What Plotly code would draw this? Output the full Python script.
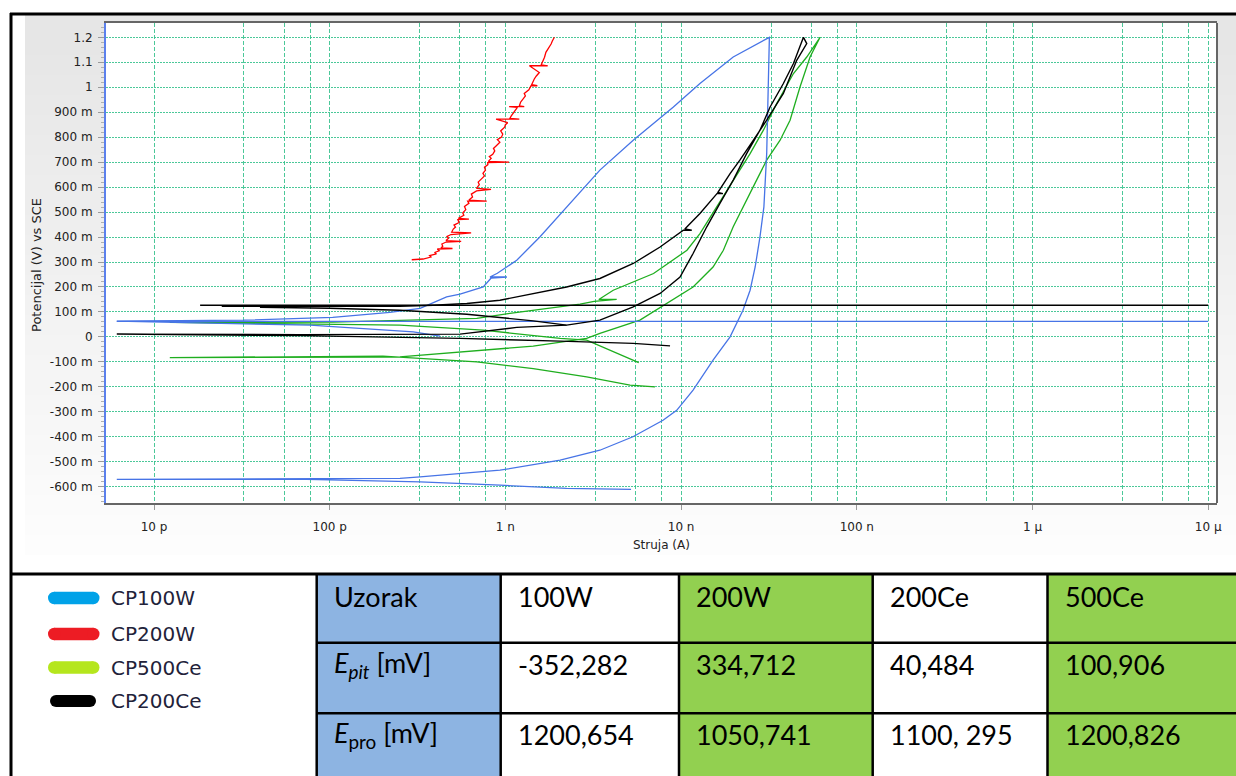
import plotly.graph_objects as go

# ---------------- data ----------------
cp100w_current = [5.19e-9, 2.23e-9, 9.31e-10, 3.27e-10, 7.4e-11, 6.14e-12, 8.81e-11, 2.51e-10, 3.27e-10,
                  9.31e-10, 2.05e-9, 3.45e-9, 5.32e-9, 7.89e-9, 9.44e-9, 1.17e-8, 1.52e-8, 1.9e-8, 2.25e-8,
                  2.47e-8, 2.64e-8, 2.81e-8, 2.96e-8, 3.07e-8, 3.13e-8, 3.18e-8, 1.98e-8, 1.28e-8, 9.04e-9,
                  5.34e-9, 3.45e-9, 2.23e-9, 1.57e-9, 1.16e-9, 9.0e-10, 8.17e-10, 1.02e-9, 8.3e-10, 7.48e-10,
                  5.52e-10, 4.63e-10, 3.27e-10, 2.2e-10, 1.04e-10, 3.22e-11, 6.14e-12, 7.73e-11, 2.99e-10,
                  4.25e-10, None, 6.14e-12, 1.0e-5]
cp100w_potential = [-0.611, -0.607, -0.594, -0.581, -0.571, -0.571, -0.568, -0.567, -0.561,
                    -0.534, -0.494, -0.454, -0.400, -0.334, -0.294, -0.213, -0.093, 0.0, 0.107,
                    0.187, 0.280, 0.400, 0.521, 0.734, 1.001, 1.2, 1.121, 1.015, 0.921,
                    0.788, 0.668, 0.521, 0.400, 0.307, 0.255, 0.240, 0.240, 0.236, 0.200,
                    0.171, 0.160, 0.114, 0.098, 0.078, 0.067, 0.063, 0.047, 0.020,
                    0.003, None, 0.0625, 0.0625]

cp200w_current = [2.93e-10, 3.4e-10, 3.77e-10, 3.7e-10, 4.05e-10, 3.95e-10, 4.2e-10, 4.1e-10, 5.0e-10, 4.3e-10,
                  4.4e-10, 4.35e-10, 4.6e-10, 5.6e-10, 4.59e-10, 4.75e-10, 4.65e-10, 4.9e-10, 6.38e-10, 4.95e-10,
                  5.05e-10, 5.2e-10, 5.1e-10, 5.45e-10, 5.36e-10, 6.2e-10, 5.4e-10, 5.8e-10, 5.72e-10, 5.95e-10,
                  5.85e-10, 6.2e-10, 6.1e-10, 7.83e-10, 6.2e-10, 6.5e-10, 6.4e-10, 6.85e-10, 8.28e-10, 6.85e-10,
                  7.1e-10, 7.0e-10, 7.26e-10, 7.6e-10, 7.45e-10, 7.7e-10, 7.6e-10, 7.95e-10, 7.93e-10, 1.05e-9,
                  8.0e-10, 8.3e-10, 8.1e-10, 8.47e-10, 8.7e-10, 8.55e-10, 8.85e-10, 9.3e-10, 9.0e-10, 9.5e-10,
                  9.66e-10, 9.4e-10, 9.9e-10, 1.0e-9, 1.03e-9, 8.85e-10, 1.2e-9, 1.06e-9, 1.08e-9, 1.1e-9,
                  1.14e-9, 1.17e-9, 1.05e-9, 1.28e-9, 1.2e-9, 1.22e-9, 1.26e-9, 1.3e-9, 1.28e-9, 1.36e-9,
                  1.4e-9, 1.52e-9, 1.41e-9, 1.43e-9, 1.46e-9, 1.5e-9, 1.56e-9, 1.37e-9, 1.74e-9, 1.6e-9,
                  1.64e-9, 1.67e-9, 1.7e-9, 1.76e-9, 1.82e-9, 1.85e-9, 1.9e-9]
cp200w_potential = [0.309, 0.312, 0.320, 0.326, 0.333, 0.338, 0.345, 0.352, 0.354, 0.356,
                    0.363, 0.372, 0.380, 0.383, 0.386, 0.395, 0.402, 0.410, 0.417, 0.420,
                    0.432, 0.440, 0.448, 0.458, 0.470, 0.472, 0.475, 0.487, 0.497, 0.510,
                    0.522, 0.535, 0.544, 0.544, 0.548, 0.560, 0.572, 0.585, 0.591, 0.595,
                    0.610, 0.620, 0.631, 0.645, 0.655, 0.668, 0.680, 0.690, 0.698, 0.700,
                    0.703, 0.715, 0.722, 0.731, 0.745, 0.755, 0.765, 0.780, 0.790, 0.800,
                    0.812, 0.825, 0.840, 0.850, 0.858, 0.872, 0.872, 0.875, 0.885, 0.892,
                    0.905, 0.919, 0.922, 0.922, 0.925, 0.940, 0.952, 0.965, 0.975, 0.990,
                    1.006, 1.006, 1.010, 1.020, 1.033, 1.045, 1.059, 1.086, 1.086, 1.090,
                    1.105, 1.120, 1.140, 1.155, 1.173, 1.185, 1.2]

cp500ce_current = [5.74e-9, 2.9e-9, 2.05e-9, 7.48e-10, 2.51e-10, 1.04e-10, 1.23e-11, 1.04e-10, 2.51e-10,
                   6.87e-10, 1.06e-9, 2.66e-9, 3.2e-9, 4.3e-9, 3.4e-9, 4.11e-9, 6.97e-9, 1.08e-8, 1.28e-8,
                   1.6e-8, 1.98e-8, 2.47e-8, 2.94e-8, 3.5e-8, 4.36e-8, 5.19e-8, 6.18e-8, 5.42e-8, 4.75e-8,
                   4.17e-8, 3.66e-8, 3.07e-8, 2.69e-8, 2.26e-8, 1.98e-8, 1.74e-8, 1.52e-8, 1.17e-8, 8.28e-9,
                   5.83e-9, 3.45e-9, 2.9e-9, 1.44e-9, 7.48e-10, 2.51e-10, 2.01e-10, 1.23e-11, 2.01e-10,
                   6.87e-10, 1.44e-9, 2.9e-9, 5.12e-9, 7.1e-9]
cp500ce_potential = [-0.103, -0.013, -0.006, 0.027, 0.047, 0.051, 0.058, 0.059, 0.067,
                     0.074, 0.094, 0.131, 0.142, 0.150, 0.150, 0.187, 0.254, 0.347, 0.414,
                     0.521, 0.628, 0.734, 0.828, 0.935, 1.055, 1.121, 1.2, 1.121, 1.001,
                     0.868, 0.788, 0.708, 0.628, 0.521, 0.441, 0.347, 0.280, 0.200, 0.134,
                     0.067, 0.014, -0.006, -0.037, -0.053, -0.080, -0.081, -0.083, -0.077,
                     -0.100, -0.127, -0.160, -0.193, -0.200]

cp200ce_current = [1.83e-11, 1.0e-5, None,
                   2.43e-11, 6.78e-11, 2.51e-10, 3.89e-10, 6.03e-10, 9.31e-10, 1.44e-9, 2.23e-9, 3.45e-9,
                   5.34e-9, 7.59e-9, 1.03e-8, 1.15e-8, 1.05e-8, 1.28e-8, 1.6e-8, 1.73e-8, 1.62e-8, 1.9e-8,
                   2.16e-8, 2.58e-8, 3.07e-8, 3.82e-8, 4.55e-8, 5.19e-8, 4.97e-8, 4.36e-8, 3.82e-8, 3.21e-8,
                   2.81e-8, 2.36e-8, 1.98e-8, 1.66e-8, 1.4e-8, 1.17e-8, 9.86e-9, 7.59e-9, 5.34e-9, 3.45e-9,
                   2.23e-9, 1.16e-9, 5.52e-10, 6.78e-11, 6.14e-12, 6.78e-11, 5.52e-10, 2.05e-9, 5.34e-9,
                   8.65e-9, None,
                   4.01e-11, 1.0e-10, 2.51e-10, 6.03e-10, 1.44e-9, 2.23e-9]
cp200ce_potential = [0.127, 0.127, None,
                     0.123, 0.123, 0.123, 0.127, 0.134, 0.147, 0.174, 0.200, 0.234,
                     0.294, 0.360, 0.427, 0.427, 0.432, 0.494, 0.574, 0.574, 0.579, 0.654,
                     0.708, 0.788, 0.868, 0.975, 1.108, 1.175, 1.2, 1.095, 1.015, 0.921,
                     0.828, 0.734, 0.628, 0.534, 0.441, 0.334, 0.240, 0.174, 0.120, 0.067,
                     0.047, 0.038, 0.011, 0.009, 0.011, 0.005, -0.006, -0.017, -0.026,
                     -0.036, None,
                     0.119, 0.115, 0.107, 0.091, 0.064, 0.047]

x_tick_vals = [1e-11, 1e-10, 1e-9, 1e-8, 1e-7, 1e-6, 1e-5]
x_tick_text = ["10 p", "100 p", "1 n", "10 n", "100 n", "1 µ", "10 µ"]
x_grid_minor = [m * d for d in [1e-11, 1e-10, 1e-9, 1e-8, 1e-7, 1e-6] for m in (3.25, 5.5, 7.75)]
y_tick_vals = [-0.6, -0.5, -0.4, -0.3, -0.2, -0.1, 0.0, 0.1, 0.2, 0.3, 0.4, 0.5, 0.6, 0.7, 0.8, 0.9, 1.0, 1.1, 1.2]
y_tick_text = ["-600 m", "-500 m", "-400 m", "-300 m", "-200 m", "-100 m", "0", "100 m", "200 m", "300 m",
               "400 m", "500 m", "600 m", "700 m", "800 m", "900 m", "1", "1.1", "1.2"]

legend_names = ["CP100W", "CP200W", "CP500Ce", "CP200Ce"]
legend_colors = ["#00a2e8", "#ed1c24", "#b5e61d", "#000000"]
table_row_labels = ["Uzorak", "<i>E</i><sub><i>pit</i></sub> [mV]", "<i>E</i><sub>pro</sub> [mV]"]
samples = ["100W", "200W", "200Ce", "500Ce"]
e_pit = ["-352,282", "334,712", "40,484", "100,906"]
e_pro = ["1200,654", "1050,741", "1100, 295", "1200,826"]

# ---------------- layout geometry ----------------
W, H = 1236, 776
L, R, T, B = 106, 19, 23, 273
PW = W - L - R
PH = H - T - B


def px(x):
    return (x - L) / PW


def py(y):
    return (H - B - y) / PH


GRID = "rgba(45,190,135,0.85)"

fig = go.Figure()
series = [
    ("CP500Ce", cp500ce_current, cp500ce_potential, "#1fae1f", 1.3),
    ("CP100W", cp100w_current, cp100w_potential, "#4774e6", 1.3),
    ("CP200W", cp200w_current, cp200w_potential, "#ff0000", 1.3),
    ("CP200Ce", cp200ce_current, cp200ce_potential, "#000000", 1.4),
]
for name, xs, ys, col, w in series:
    fig.add_trace(go.Scatter(x=xs, y=ys, mode="lines", name=name, showlegend=False,
                             line=dict(color=col, width=w), connectgaps=False, hoverinfo="skip"))

shapes = []
# grey gradient panel behind chart
band_top, band_bot, nb = 15, 555, 27
for i in range(nb):
    y0 = band_top + i * (band_bot - band_top) / nb
    y1 = band_top + (i + 1) * (band_bot - band_top) / nb
    c = int(230 + (253 - 230) * i / (nb - 1))
    shapes.append(dict(type="rect", xref="paper", yref="paper", x0=px(25), x1=px(1236),
                       y0=py(y1), y1=py(y0), line=dict(width=0), fillcolor=f"rgb({c},{c},{c})", layer="below"))
shapes.append(dict(type="rect", xref="paper", yref="paper", x0=0, x1=1, y0=0, y1=1,
                   line=dict(width=0), fillcolor="white", layer="below"))
# right border of plot
shapes.append(dict(type="line", xref="paper", yref="paper", x0=1, x1=1, y0=0, y1=1,
                   line=dict(color="#666666", width=2)))

# table cell fills
col_edges = [11, 316.7, 500.7, 679, 872.7, 1047.5, 1236]
row_edges = [574, 642.7, 713.3, 776]
fills = ["white", "#8db4e2", "white", "#92d050", "white", "#92d050"]
for ci in range(1, 6):
    shapes.append(dict(type="rect", xref="paper", yref="paper", x0=px(col_edges[ci]), x1=px(col_edges[ci + 1]),
                       y0=py(776), y1=py(574), line=dict(width=0), fillcolor=fills[ci]))
# table / frame lines
blk = dict(color="black", width=2.5)
shapes.append(dict(type="line", xref="paper", yref="paper", x0=px(11), x1=px(11), y0=py(776), y1=py(13), line=dict(color="black", width=3)))
shapes.append(dict(type="line", xref="paper", yref="paper", x0=px(10), x1=px(1236), y0=py(14), y1=py(14), line=dict(color="black", width=3)))
shapes.append(dict(type="line", xref="paper", yref="paper", x0=px(10), x1=px(1236), y0=py(574), y1=py(574), line=dict(color="black", width=3)))
for ce in col_edges[1:6]:
    shapes.append(dict(type="line", xref="paper", yref="paper", x0=px(ce), x1=px(ce), y0=py(776), y1=py(574), line=blk))
for re_ in row_edges[1:3]:
    shapes.append(dict(type="line", xref="paper", yref="paper", x0=px(316.7), x1=px(1236), y0=py(re_), y1=py(re_), line=blk))

# legend bars (rounded)
leg_y = [598, 634, 667.5, 701]
for i, (nm, col) in enumerate(zip(legend_names, legend_colors)):
    yc = leg_y[i]
    x0, x1, r = (48, 99.5, 6.2) if nm != "CP200Ce" else (50, 96, 6.0)
    shapes.append(dict(type="rect", xref="paper", yref="paper", x0=px(x0 + r), x1=px(x1 - r),
                       y0=py(yc + r), y1=py(yc - r), line=dict(width=0), fillcolor=col))
    for cx in (x0 + r, x1 - r):
        shapes.append(dict(type="circle", xref="paper", yref="paper", x0=px(cx - r), x1=px(cx + r),
                           y0=py(yc + r), y1=py(yc - r), line=dict(width=0), fillcolor=col))

annotations = []
for i, nm in enumerate(legend_names):
    annotations.append(dict(xref="paper", yref="paper", x=px(109), y=py(leg_y[i]), xanchor="left", yanchor="middle",
                            text=nm, showarrow=False, font=dict(family="DejaVu Sans", size=20, color="#22223a")))

row_centers = [596, 664, 734]
tfont = dict(family="Lato", size=27, color="black")
table_rows = [samples, e_pit, e_pro]
for ri in range(3):
    annotations.append(dict(xref="paper", yref="paper", x=px(col_edges[1] + 15), y=py(row_centers[ri]),
                            xanchor="left", yanchor="middle", text=table_row_labels[ri], showarrow=False, font=tfont))
    for ci in range(4):
        annotations.append(dict(xref="paper", yref="paper", x=px(col_edges[ci + 2] + 15), y=py(row_centers[ri]),
                                xanchor="left", yanchor="middle", text=table_rows[ri][ci], showarrow=False, font=tfont))

# axis titles
annotations.append(dict(xref="paper", yref="paper", x=px(36), y=py(265), textangle=-90, text="Potencijal (V) vs SCE",
                        showarrow=False, xanchor="center", yanchor="middle",
                        font=dict(family="DejaVu Sans", size=13, color="#222222")))
annotations.append(dict(xref="paper", yref="paper", x=px(661), y=py(545), text="Struja (A)",
                        showarrow=False, xanchor="center", yanchor="middle",
                        font=dict(family="DejaVu Sans", size=12, color="#222222")))

fig.update_layout(
    width=W, height=H, autosize=False,
    margin=dict(l=L, r=R, t=T, b=B, pad=0),
    paper_bgcolor="white", plot_bgcolor="white",
    shapes=shapes, annotations=annotations, showlegend=False,
    xaxis=dict(type="log", range=[-11.2732, -4.9499], tickvals=x_tick_vals, ticktext=x_tick_text,
               ticks="outside", ticklen=5, tickcolor="#9a9a9a", tickwidth=1,
               showgrid=True, gridcolor=GRID, griddash="4px,2px", gridwidth=1,
               showline=True, linecolor="#666666", linewidth=2, mirror=True, zeroline=False,
               tickfont=dict(family="DejaVu Sans", size=12, color="#222222"), ticklabelstandoff=7,
               minor=dict(tickvals=x_grid_minor, showgrid=True, gridcolor=GRID, griddash="4px,2px",
                          gridwidth=1, ticks="")),
    yaxis=dict(range=[-0.6653, 1.2573], tickvals=y_tick_vals, ticktext=y_tick_text,
               ticks="outside", ticklen=6, tickcolor="#9a9a9a", tickwidth=1,
               showgrid=True, gridcolor=GRID, griddash="2px,1px", gridwidth=1,
               showline=True, linecolor="#5b80ec", linewidth=2, zeroline=False,
               tickfont=dict(family="DejaVu Sans", size=12, color="#222222"), ticklabelstandoff=3,
               minor=dict(dtick=0.02, ticks="outside", ticklen=3, tickcolor="#b0b0b0", showgrid=False)),
)

fig.write_html("out.html", config={"displayModeBar": False},
               post_script="document.body.style.margin='0';")
